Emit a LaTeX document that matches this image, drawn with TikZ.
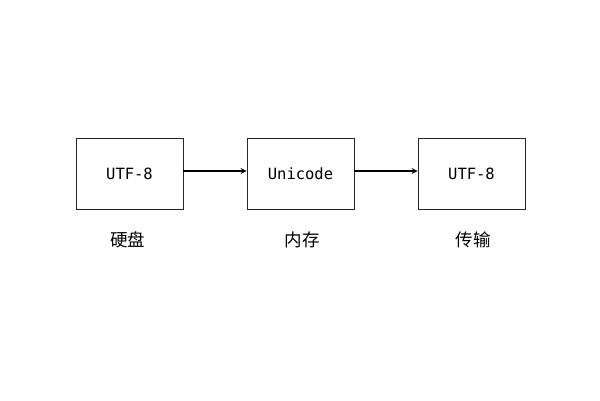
\documentclass[tikz,border=0pt]{standalone}
\usepackage{fontspec}
\setmonofont{DejaVu Sans Mono}
\newfontfamily\cjk{Noto Sans CJK SC}
\usetikzlibrary{positioning}

\begin{document}
\begin{tikzpicture}[x=1pt,y=1pt,
	box/.style={draw=black!85,line width=0.9pt,minimum width=107pt,minimum height=71pt,text height=11pt,text depth=0pt,font=\fontsize{15.5}{18}\selectfont\ttfamily},
	lbl/.style={font=\fontsize{17.5}{20}\selectfont\cjk}]
	\useasboundingbox (0,0) rectangle (600,400);
	\node[box] (disk) at (129.5,226.5) {UTF-8};
	\node[box] (mem) at (300.5,226.5) {Unicode};
	\node[box] (net) at (471.5,226.5) {UTF-8};
	\draw[line width=1.6pt,->,>=stealth] ([yshift=2.5]disk.east) -- ([yshift=2.5]mem.west);
	\draw[line width=1.6pt,->,>=stealth] ([yshift=2.5]mem.east) -- ([yshift=2.5]net.west);
	\node[lbl] (disklbl) at (127.5,160) {硬盘};
	\node[lbl] (memlbl) at (302,160) {内存};
	\node[lbl] (netlbl) at (473,160) {传输};
\end{tikzpicture}
\end{document}
